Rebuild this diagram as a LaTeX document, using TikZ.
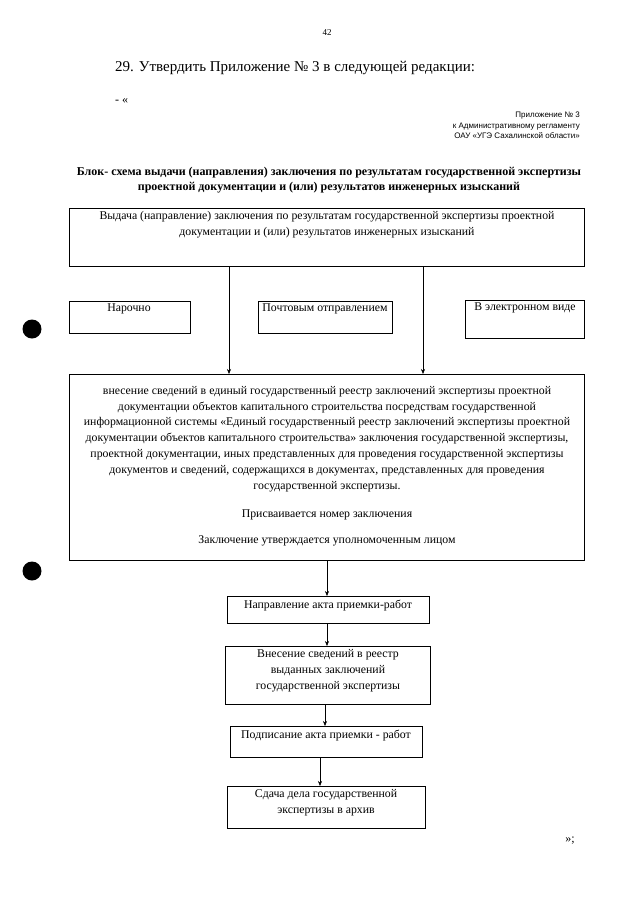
\documentclass[tikz,border=0pt]{standalone}
\usepackage{fontspec}
\setmainfont{Liberation Serif}
\newfontfamily\sansf{Liberation Sans}
\usetikzlibrary{arrows.meta}
\begin{document}
\begin{tikzpicture}[x=1pt,y=-1pt,
  box/.style={draw, line width=0.6pt, inner sep=0pt, anchor=north west},
  txt/.style={font=\fontsize{11.8}{15.8}\selectfont, align=center, inner sep=0pt},
  arr/.style={-{Stealth[length=5pt,width=4pt]}, line width=0.5pt},
  dot/.style={circle, fill=black, minimum size=19pt, inner sep=0pt}]
\fill[white] (0,0) rectangle (640,905);
\useasboundingbox (0,0) rectangle (640,905);

% header
\node[font=\fontsize{9}{11}\selectfont, inner sep=0pt] (pnum) at (327,33) {42};
\node[font=\fontsize{15}{18}\selectfont, anchor=west, inner sep=0pt] (head) at (115,68) {29. Утвердить Приложение № 3 в следующей редакции:};
\node[font=\fontsize{12}{14}\selectfont, anchor=west, inner sep=0pt] (quote) at (115,101) {- «};
\node[font=\sansf\fontsize{8}{10.5}\selectfont, anchor=north east, align=right, inner sep=0pt] (appx) at (580,112) {Приложение № 3\\к Административному регламенту\\ОАУ «УГЭ Сахалинской области»};
\node[font=\bfseries\fontsize{12}{15}\selectfont, align=center, inner sep=0pt] (title) at (329,180) {Блок- схема выдачи (направления) заключения по результатам государственной экспертизы\\проектной документации и (или) результатов инженерных изысканий};

% top box
\node[box, minimum width=515pt, minimum height=58pt] (top) at (69,208) {};
\node[txt, anchor=north] (toptxt) at (327,211.5) {Выдача (направление) заключения по результатам государственной экспертизы проектной\\документации и (или) результатов инженерных изысканий};

% three small boxes
\node[box, minimum width=121pt, minimum height=32pt] (b1) at (69,301) {};
\node[txt, anchor=north] (b1t) at (129,304) {Нарочно};
\node[box, minimum width=134pt, minimum height=32pt] (b2) at (258,301) {};
\node[txt, anchor=north] (b2t) at (325,304) {Почтовым отправлением};
\node[box, minimum width=119pt, minimum height=38pt] (b3) at (465,300) {};
\node[txt, anchor=north] (b3t) at (525,303) {В электронном виде};

% big box
\node[box, minimum width=515pt, minimum height=186pt] (big) at (69,374) {};
\node[txt, anchor=north] (bigt) at (327,386) {внесение сведений в единый государственный реестр заключений экспертизы проектной\\
документации объектов капитального строительства посредствам государственной\\
информационной системы «Единый государственный реестр заключений экспертизы проектной\\
документации объектов капитального строительства» заключения государственной экспертизы,\\
проектной документации, иных представленных для проведения государственной экспертизы\\
документов и сведений, содержащихся в документах, представленных для проведения\\
государственной экспертизы.};
\node[txt] (num) at (327,515) {Присваивается номер заключения};
\node[txt] (appr) at (327,541) {Заключение утверждается уполномоченным лицом};

% lower chain
\node[box, minimum width=202pt, minimum height=27pt] (c1) at (227,596) {};
\node[txt, anchor=north] (c1t) at (328,599.5) {Направление акта приемки-работ};
\node[box, minimum width=205pt, minimum height=58pt] (c2) at (225,646) {};
\node[txt, anchor=north] (c2t) at (328,649.5) {Внесение сведений в реестр\\выданных заключений\\государственной экспертизы};
\node[box, minimum width=192pt, minimum height=31pt] (c3) at (230,726) {};
\node[txt, anchor=north] (c3t) at (326,729.5) {Подписание акта приемки - работ};
\node[box, minimum width=198pt, minimum height=42pt] (c4) at (227,786) {};
\node[txt, anchor=north] (c4t) at (326,789.5) {Сдача дела государственной\\экспертизы в архив};

\node[font=\fontsize{12}{14}\selectfont, inner sep=0pt] (endq) at (570,841) {»;};

% dots
\node[dot] (d1) at (32,329) {};
\node[dot] (d2) at (32,571) {};

% connectors
\coordinate (xa) at (229,0);
\coordinate (xb) at (423,0);
\coordinate (xc) at (327,0);
\coordinate (xd) at (325,0);
\coordinate (xe) at (320,0);
\draw[arr] (top.south -| xa) -- (big.north -| xa);
\draw[arr] (top.south -| xb) -- (big.north -| xb);
\draw[arr] (big.south -| xc) -- (c1.north -| xc);
\draw[arr] (c1.south -| xc) -- (c2.north -| xc);
\draw[arr] (c2.south -| xd) -- (c3.north -| xd);
\draw[arr] (c3.south -| xe) -- (c4.north -| xe);
\end{tikzpicture}
\end{document}
